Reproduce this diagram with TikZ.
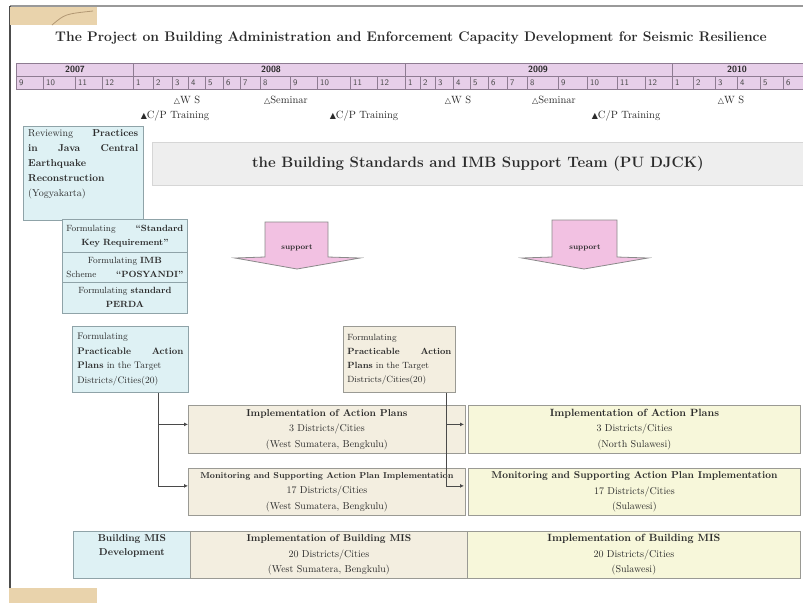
\documentclass[tikz,border=0pt]{standalone}
\usepackage{fontspec}
\newfontfamily\symfont{DejaVu Sans}
\usetikzlibrary{arrows.meta,calc}

\definecolor{tlfill}{HTML}{E7CFE9}
\definecolor{tlline}{HTML}{8E7C92}
\definecolor{bluefill}{HTML}{DEF1F4}
\definecolor{blueline}{HTML}{8FA3A8}
\definecolor{beigefill}{HTML}{F3EEE0}
\definecolor{yellowfill}{HTML}{F7F7DA}
\definecolor{boxline}{HTML}{9A9A94}
\definecolor{bannerfill}{HTML}{EEEEEE}
\definecolor{bannerline}{HTML}{D6D6D6}
\definecolor{pinkfill}{HTML}{F2C1E2}
\definecolor{tanfill}{HTML}{E9D3AC}
\definecolor{ink}{HTML}{2A2A2A}

\newcommand{\openmark}{{\symfont\fontsize{8}{9}\selectfont △}}
\newcommand{\fullmark}{{\symfont\fontsize{8}{9}\selectfont ▲}}

\tikzset{
  box/.style={draw=boxline, line width=0.8pt, inner sep=0pt, anchor=north west, align=center, text=ink},
  bluebox/.style={box, fill=bluefill, draw=blueline},
  beigebox/.style={box, fill=beigefill},
  yellowbox/.style={box, fill=yellowfill},
  rowtext/.style={font=\fontsize{10}{15.5}\selectfont},
  evt/.style={font=\fontsize{10.5}{11}\selectfont, text=ink, inner sep=0pt},
  monthlbl/.style={font=\fontsize{8.5}{9}\sffamily, text=ink!85, inner sep=0pt, anchor=west},
  yearlbl/.style={font=\fontsize{9}{10}\sffamily\bfseries, text=ink, inner sep=0pt},
  conn/.style={draw=ink!85, line width=0.8pt, -{Latex[length=4pt,width=4pt]}},
  supportarrow/.style={fill=pinkfill, draw=ink!55, line width=0.8pt},
}

\begin{document}
\begin{tikzpicture}[x=1pt,y=-1pt]
\useasboundingbox (0,0) rectangle (803,603);
\fill[white] (0,0) rectangle (803,603);

% page frame and corner tabs
\draw[line width=2pt, black!40] (10,6) -- (803,6);
\draw[line width=1.2pt, black!70] (10,6) -- (10,590);
\fill[tanfill] (10,7) rectangle (97,25);
\draw[line width=0.8pt, black!25!tanfill!80!brown] (52,25) .. controls (65,14) .. (93,11);
\fill[tanfill] (9,588) rectangle (97,603);

% title
\node[font=\fontsize{13.9}{16}\selectfont\bfseries, text=ink, inner sep=0pt] (title) at (411,38)
  {The Project on Building Administration and Enforcement Capacity Development for Seismic Resilience};

% schedule bar
\fill[tlfill] (16,63) rectangle (803,89);
\draw[tlline, line width=0.7pt] (803,63) -- (16,63) -- (16,89) -- (803,89);
\draw[tlline, line width=0.7pt] (16,76) -- (803,76);
\foreach \x in {133,405,672} \draw[tlline, line width=0.7pt] (\x,63) -- (\x,89);
\node[yearlbl] (y2007) at (75,69.5) {2007};
\node[yearlbl] (y2008) at (271,69.5) {2008};
\node[yearlbl] (y2009) at (538,69.5) {2009};
\node[yearlbl] (y2010) at (737,69.5) {2010};
\foreach \a/\b/\m [count=\i] in {
  16/43/9, 43/75/10, 75/102/11, 102/133/12,
  133/153/1, 153/172/2, 172/188/3, 188/205/4, 205/223/5, 223/240/6, 240/260/7,
  260/290/8, 290/317/9, 317/350/10, 350/377/11, 377/405/12,
  405/420/1, 420/435/2, 435/453/3, 453/470/4, 470/488/5, 488/507/6, 507/527/7,
  527/558/8, 558/587/9, 587/617/10, 617/645/11, 645/672/12,
  672/693/1, 693/715/2, 715/737/3, 737/760/4, 760/783/5, 783/803/6}
{
  \node[monthlbl] (mon\i) at (\a+3,82.5) {\m};
  \draw[tlline, line width=0.6pt] (\b,76) -- (\b,89);
}

% events
\node[evt] (ws1) at (187,100) {\openmark W S};
\node[evt] (sem1) at (286,100) {\openmark Seminar};
\node[evt] (cp1) at (175,116) {\fullmark C/P Training};
\node[evt] (cp2) at (364,116) {\fullmark C/P Training};
\node[evt] (ws2) at (458,100) {\openmark W S};
\node[evt] (sem2) at (554,100) {\openmark Seminar};
\node[evt] (cp3) at (626,116) {\fullmark C/P Training};
\node[evt] (ws3) at (731,100) {\openmark W S};

% review box
\node[bluebox, minimum width=120, minimum height=94] (rev) at (23,126) {};
\node[anchor=north west, inner sep=0pt, text width=110, align=left, text=ink,
      font=\fontsize{10}{15}\selectfont\bfseries] (revt) at ($(rev.north west)+(5,3)$)
  {{\mdseries Reviewing}\hfill Practices\\
   in\hfill Java\hfill Central\\
   Earthquake\\
   Reconstruction\\
   {\mdseries (Yogyakarta)}};

% formulation stack
\node[bluebox, minimum width=125, minimum height=33, text width=117, font=\fontsize{9}{14}\selectfont] (fsk) at (62,219)
  {Formulating\hfill{\bfseries “Standard}\\{\bfseries Key Requirement”}};
\node[bluebox, minimum width=125, minimum height=30, text width=117, font=\fontsize{9}{14}\selectfont] (fimb) at (62,252)
  {Formulating {\bfseries IMB}\\Scheme\hfill{\bfseries “POSYANDI”}};
\node[bluebox, minimum width=125, minimum height=31, text width=117, font=\fontsize{9}{14}\selectfont] (fpd) at (62,282)
  {Formulating {\bfseries standard}\\{\bfseries PERDA}};

% support team banner
\node[box, fill=bannerfill, draw=bannerline, minimum width=651, minimum height=43,
      font=\fontsize{15}{18}\selectfont\bfseries] (team) at (152,142)
  {the Building Standards and IMB Support Team (PU DJCK)};

% support arrows
\draw[supportarrow] (265,222) -- (328,222) -- (328,257) -- (360,258) -- (297,269) -- (235,258) -- (265,257) -- cycle;
\node[font=\fontsize{7.5}{8}\selectfont\bfseries, text=ink, inner sep=0pt] (supL) at (297,248) {support};
\draw[supportarrow] (552,220) -- (617,220) -- (617,257) -- (648,258) -- (584,269) -- (522,258) -- (552,257) -- cycle;
\node[font=\fontsize{7.5}{8}\selectfont\bfseries, text=ink, inner sep=0pt] (supR) at (585,248) {support};

% action plan formulation
\node[bluebox, minimum width=116, minimum height=66, text width=106, align=left,
      font=\fontsize{9.5}{14.5}\selectfont] (fpl) at (72,326)
  {Formulating\\{\bfseries Practicable\hfill Action}\\{\bfseries Plans} in the Target\\Districts/Cities(20)};
\node[beigebox, minimum width=112, minimum height=66, text width=104, align=left,
      font=\fontsize{9}{14}\selectfont] (fpr) at (343,326)
  {Formulating\\{\bfseries Practicable\hfill Action}\\{\bfseries Plans} in the Target\\Districts/Cities(20)};

% implementation rows
\node[beigebox, rowtext, minimum width=277, minimum height=48] (impA) at (188,405)
  {{\bfseries Implementation of Action Plans}\\3 Districts/Cities\\(West Sumatera, Bengkulu)};
\node[yellowbox, rowtext, minimum width=332, minimum height=48] (impB) at (468,405)
  {{\fontsize{10.5}{15.5}\selectfont\bfseries Implementation of Action Plans}\\3 Districts/Cities\\(North Sulawesi)};

\node[beigebox, rowtext, minimum width=277, minimum height=47] (monA) at (188,468)
  {{\fontsize{8.6}{15.5}\selectfont\bfseries Monitoring and Supporting Action Plan Implementation}\\17 Districts/Cities\\(West Sumatera, Bengkulu)};
\node[yellowbox, rowtext, minimum width=332, minimum height=47] (monB) at (468,468)
  {{\bfseries Monitoring and Supporting Action Plan Implementation}\\17 Districts/Cities\\(Sulawesi)};

\node[bluebox, minimum width=117, minimum height=47, font=\fontsize{10}{14}\selectfont\bfseries] (mis) at (73,531)
  {Building MIS\\Development\\[6pt]};
\node[beigebox, rowtext, minimum width=277, minimum height=47] (misA) at (190,531)
  {{\bfseries Implementation of Building MIS}\\20 Districts/Cities\\(West Sumatera, Bengkulu)};
\node[yellowbox, rowtext, minimum width=333, minimum height=47] (misB) at (467,531)
  {{\fontsize{10.5}{15.5}\selectfont\bfseries Implementation of Building MIS}\\20 Districts/Cities\\(Sulawesi)};

% connectors from the formulation boxes
\coordinate (lsplit) at ($(fpl.south west)+(86,0)$);
\draw[conn] (lsplit) |- ($(impA.west)+(0,-5)$);
\draw[conn] (lsplit) |- ($(monA.west)+(0,-6)$);
\coordinate (rsplit) at ($(fpr.south west)+(103,0)$);
\draw[conn] (rsplit) |- ($(impB.west)+(-4,-5)$);
\draw[conn] (rsplit) |- ($(monB.west)+(-4,-6)$);

\end{tikzpicture}
\end{document}
